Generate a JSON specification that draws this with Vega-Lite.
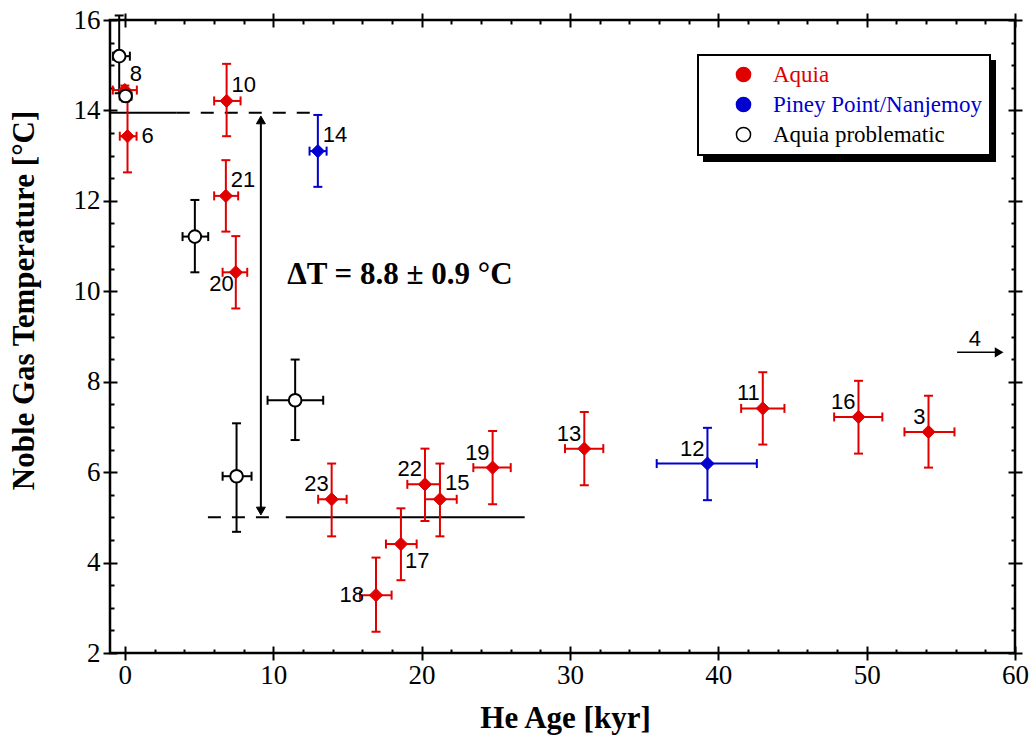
{
  "$schema": "https://vega.github.io/schema/vega-lite/v6.json",
  "width": 905,
  "height": 633,
  "autosize": {"type": "none"},
  "padding": {"left": 110, "top": 20, "right": 17, "bottom": 91},
  "background": "white",
  "config": {
    "view": {"stroke": "black", "strokeWidth": 2.5},
    "legend": {"strokeWidth": 2},
    "axis": {"grid": false, "domain": false, "tickColor": "black"}
  },
  "datasets": {
    "pts": [
      {"id": "8", "g": "Aquia", "x": 0, "xlo": -0.81, "xhi": 0.81, "y": 14.45, "ylo": 14.35, "yhi": 14.55, "pos": "ur"},
      {"id": "", "g": "Aquia problematic", "x": -0.38, "xlo": -0.79, "xhi": 0.34, "y": 15.2, "ylo": 14.38, "yhi": 16.1, "pos": "none"},
      {"id": "", "g": "Aquia problematic", "x": 0.05, "xlo": -0.34, "xhi": 0.45, "y": 14.32, "ylo": 14.2, "yhi": 14.45, "pos": "none"},
      {"id": "6", "g": "Aquia", "x": 0.18, "xlo": -0.34, "xhi": 0.79, "y": 13.43, "ylo": 12.63, "yhi": 14.23, "pos": "r"},
      {"id": "10", "g": "Aquia", "x": 6.86, "xlo": 6.02, "xhi": 7.8, "y": 14.21, "ylo": 13.43, "yhi": 15.03, "pos": "ur"},
      {"id": "14", "g": "Piney Point/Nanjemoy", "x": 13.01, "xlo": 12.45, "xhi": 13.6, "y": 13.1, "ylo": 12.31, "yhi": 13.9, "pos": "ur"},
      {"id": "21", "g": "Aquia", "x": 6.81, "xlo": 6.02, "xhi": 7.64, "y": 12.11, "ylo": 11.32, "yhi": 12.9, "pos": "ur"},
      {"id": "", "g": "Aquia problematic", "x": 4.72, "xlo": 3.89, "xhi": 5.62, "y": 11.21, "ylo": 10.42, "yhi": 12.02, "pos": "none"},
      {"id": "20", "g": "Aquia", "x": 7.48, "xlo": 6.59, "xhi": 8.25, "y": 10.42, "ylo": 9.62, "yhi": 11.22, "pos": "ll"},
      {"id": "", "g": "Aquia problematic", "x": 11.48, "xlo": 9.62, "xhi": 13.37, "y": 7.59, "ylo": 6.71, "yhi": 8.49, "pos": "none"},
      {"id": "", "g": "Aquia problematic", "x": 7.53, "xlo": 6.59, "xhi": 8.54, "y": 5.91, "ylo": 4.68, "yhi": 7.08, "pos": "none"},
      {"id": "23", "g": "Aquia", "x": 13.94, "xlo": 13.03, "xhi": 14.95, "y": 5.4, "ylo": 4.58, "yhi": 6.19, "pos": "ul"},
      {"id": "22", "g": "Aquia", "x": 20.23, "xlo": 19.04, "xhi": 21.24, "y": 5.73, "ylo": 4.92, "yhi": 6.52, "pos": "ul"},
      {"id": "15", "g": "Aquia", "x": 21.24, "xlo": 20.23, "xhi": 22.37, "y": 5.4, "ylo": 4.58, "yhi": 6.19, "pos": "ur"},
      {"id": "19", "g": "Aquia", "x": 24.79, "xlo": 23.49, "xhi": 26.01, "y": 6.1, "ylo": 5.29, "yhi": 6.91, "pos": "ul"},
      {"id": "17", "g": "Aquia", "x": 18.61, "xlo": 17.6, "xhi": 19.67, "y": 4.41, "ylo": 3.61, "yhi": 5.2, "pos": "lr"},
      {"id": "18", "g": "Aquia", "x": 16.93, "xlo": 15.85, "xhi": 17.98, "y": 3.28, "ylo": 2.47, "yhi": 4.11, "pos": "l"},
      {"id": "13", "g": "Aquia", "x": 30.97, "xlo": 29.67, "xhi": 32.25, "y": 6.52, "ylo": 5.71, "yhi": 7.33, "pos": "ul"},
      {"id": "12", "g": "Piney Point/Nanjemoy", "x": 39.27, "xlo": 35.85, "xhi": 42.6, "y": 6.19, "ylo": 5.38, "yhi": 6.98, "pos": "ul"},
      {"id": "11", "g": "Aquia", "x": 43.0, "xlo": 41.54, "xhi": 44.46, "y": 7.41, "ylo": 6.61, "yhi": 8.21, "pos": "ul"},
      {"id": "16", "g": "Aquia", "x": 49.45, "xlo": 47.81, "xhi": 51.06, "y": 7.22, "ylo": 6.41, "yhi": 8.02, "pos": "ul"},
      {"id": "3", "g": "Aquia", "x": 54.17, "xlo": 52.55, "xhi": 55.92, "y": 6.89, "ylo": 6.1, "yhi": 7.69, "pos": "ul"}
    ],
    "lines": [
      {"x": -1, "x2": 3.5, "y": 13.95, "style": "solid"},
      {"x": 3.5, "x2": 13.2, "y": 13.95, "style": "dashed"},
      {"x": 5.6, "x2": 10.4, "y": 5.0, "style": "dashed"},
      {"x": 10.85, "x2": 26.95, "y": 5.0, "style": "solid"}
    ],
    "vline": [{"x": 9.17, "y": 5.2, "y2": 13.7}],
    "heads": [
      {"x": 9.17, "y": 13.79, "dir": "up"},
      {"x": 9.17, "y": 5.14, "dir": "down"}
    ],
    "arrow4": [{"x": 56.1, "x2": 58.9, "y": 8.65, "hx": 58.9, "lx": 57.3, "label": "4"}],
    "note": [{"x": 18.54, "y": 10.36, "text": "ΔT = 8.8 ± 0.9 °C"}]
  },
  "resolve": {"axis": {"x": "independent", "y": "independent"}},
  "layer": [
    {
      "data": {"name": "lines"},
      "transform": [{"filter": "datum.style === 'solid'"}],
      "mark": {"type": "rule", "stroke": "black", "strokeWidth": 2},
      "encoding": {
        "x": {"field": "x", "type": "quantitative", "scale": {"domain": [-1, 60], "nice": false, "zero": false},
              "axis": {"orient": "bottom", "values": [2,4,6,8,12,14,16,18,22,24,26,28,32,34,36,38,42,44,46,48,52,54,56,58], "tickSize": -4, "tickWidth": 2, "labels": false, "title": null}},
        "x2": {"field": "x2"},
        "y": {"field": "y", "type": "quantitative", "scale": {"domain": [2, 16], "nice": false, "zero": false},
              "axis": {"orient": "left", "values": [2.5,3,3.5,4.5,5,5.5,6.5,7,7.5,8.5,9,9.5,10.5,11,11.5,12.5,13,13.5,14.5,15,15.5], "tickSize": -4, "tickWidth": 2, "labels": false, "title": null}}
      }
    },
    {
      "data": {"name": "lines"},
      "transform": [{"filter": "datum.style === 'dashed'"}],
      "mark": {"type": "rule", "stroke": "black", "strokeWidth": 2, "strokeDash": [13, 11]},
      "encoding": {
        "x": {"field": "x", "type": "quantitative", "scale": {"domain": [-1, 60], "nice": false, "zero": false},
              "axis": {"orient": "top", "values": [2,4,6,8,12,14,16,18,22,24,26,28,32,34,36,38,42,44,46,48,52,54,56,58], "tickSize": -4, "tickWidth": 2, "labels": false, "title": null}},
        "x2": {"field": "x2"},
        "y": {"field": "y", "type": "quantitative", "scale": {"domain": [2, 16], "nice": false, "zero": false},
              "axis": {"orient": "right", "values": [2.5,3,3.5,4.5,5,5.5,6.5,7,7.5,8.5,9,9.5,10.5,11,11.5,12.5,13,13.5,14.5,15,15.5], "tickSize": -4, "tickWidth": 2, "labels": false, "title": null}}
      }
    },
    {
      "data": {"name": "vline"},
      "mark": {"type": "rule", "stroke": "black", "strokeWidth": 2},
      "encoding": {
        "x": {"field": "x", "type": "quantitative", "scale": {"domain": [-1, 60], "nice": false, "zero": false},
              "axis": {"orient": "bottom", "values": [0,10,20,30,40,50,60], "tickSize": -7, "tickWidth": 2, "labels": false, "title": null}},
        "y": {"field": "y", "type": "quantitative", "scale": {"domain": [2, 16], "nice": false, "zero": false},
              "axis": {"orient": "left", "values": [2,4,6,8,10,12,14,16], "tickSize": -7, "tickWidth": 2, "labels": false, "title": null}},
        "y2": {"field": "y2"}
      }
    },
    {
      "data": {"name": "heads"},
      "transform": [{"filter": "datum.dir === 'up'"}],
      "mark": {"type": "point", "shape": "triangle-up", "filled": true, "fill": "black", "stroke": "black", "strokeWidth": 1, "size": 80, "opacity": 1},
      "encoding": {
        "x": {"field": "x", "type": "quantitative", "scale": {"domain": [-1, 60], "nice": false, "zero": false},
              "axis": {"orient": "top", "values": [0,10,20,30,40,50,60], "tickSize": -7, "tickWidth": 2, "labels": false, "title": null}},
        "y": {"field": "y", "type": "quantitative", "scale": {"domain": [2, 16], "nice": false, "zero": false},
              "axis": {"orient": "right", "values": [2,4,6,8,10,12,14,16], "tickSize": -7, "tickWidth": 2, "labels": false, "title": null}}
      }
    },
    {
      "data": {"name": "heads"},
      "transform": [{"filter": "datum.dir === 'down'"}],
      "mark": {"type": "point", "shape": "triangle-down", "filled": true, "fill": "black", "stroke": "black", "strokeWidth": 1, "size": 80, "opacity": 1},
      "encoding": {
        "x": {"field": "x", "type": "quantitative", "scale": {"domain": [-1, 60], "nice": false, "zero": false}, "axis": null},
        "y": {"field": "y", "type": "quantitative", "scale": {"domain": [2, 16], "nice": false, "zero": false}, "axis": null}
      }
    },
    {
      "data": {"name": "pts"},
      "mark": {"type": "rule", "strokeWidth": 2},
      "encoding": {
        "x": {"field": "xlo", "type": "quantitative", "scale": {"domain": [-1, 60], "nice": false, "zero": false},
              "axis": {"orient": "top", "values": [0,10,20,30,40,50,60], "tickSize": 7, "tickWidth": 2, "labels": false, "title": null}},
        "x2": {"field": "xhi"},
        "y": {"field": "y", "type": "quantitative", "scale": {"domain": [2, 16], "nice": false, "zero": false},
              "axis": {"orient": "right", "values": [2,4,6,8,10,12,14,16], "tickSize": 7, "tickWidth": 2, "labels": false, "title": null}},
        "stroke": {"field": "g", "type": "nominal", "scale": {"domain": ["Aquia", "Piney Point/Nanjemoy", "Aquia problematic"], "range": ["#e00000", "#0000d0", "#000000"]}}
      }
    },
    {
      "data": {"name": "pts"},
      "mark": {"type": "rule", "strokeWidth": 2},
      "encoding": {
        "x": {"field": "x", "type": "quantitative", "scale": {"domain": [-1, 60], "nice": false, "zero": false}, "axis": null},
        "y": {"field": "ylo", "type": "quantitative", "scale": {"domain": [2, 16], "nice": false, "zero": false}, "axis": null},
        "y2": {"field": "yhi"},
        "stroke": {"field": "g", "type": "nominal", "scale": {"domain": ["Aquia", "Piney Point/Nanjemoy", "Aquia problematic"], "range": ["#e00000", "#0000d0", "#000000"]}}
      }
    },
    {
      "data": {"name": "pts"},
      "mark": {"type": "rule", "strokeWidth": 2, "yOffset": -4.5, "y2Offset": 4.5},
      "encoding": {
        "x": {"field": "xlo", "type": "quantitative", "scale": {"domain": [-1, 60], "nice": false, "zero": false}, "axis": null},
        "y": {"field": "y", "type": "quantitative", "scale": {"domain": [2, 16], "nice": false, "zero": false}, "axis": null},
        "y2": {"field": "y"},
        "stroke": {"field": "g", "type": "nominal", "scale": {"domain": ["Aquia", "Piney Point/Nanjemoy", "Aquia problematic"], "range": ["#e00000", "#0000d0", "#000000"]}}
      }
    },
    {
      "data": {"name": "pts"},
      "mark": {"type": "rule", "strokeWidth": 2, "yOffset": -4.5, "y2Offset": 4.5},
      "encoding": {
        "x": {"field": "xhi", "type": "quantitative", "scale": {"domain": [-1, 60], "nice": false, "zero": false}, "axis": null},
        "y": {"field": "y", "type": "quantitative", "scale": {"domain": [2, 16], "nice": false, "zero": false}, "axis": null},
        "y2": {"field": "y"},
        "stroke": {"field": "g", "type": "nominal", "scale": {"domain": ["Aquia", "Piney Point/Nanjemoy", "Aquia problematic"], "range": ["#e00000", "#0000d0", "#000000"]}}
      }
    },
    {
      "data": {"name": "pts"},
      "mark": {"type": "rule", "strokeWidth": 2, "xOffset": -4.5, "x2Offset": 4.5},
      "encoding": {
        "x": {"field": "x", "type": "quantitative", "scale": {"domain": [-1, 60], "nice": false, "zero": false}, "axis": null},
        "x2": {"field": "x"},
        "y": {"field": "ylo", "type": "quantitative", "scale": {"domain": [2, 16], "nice": false, "zero": false}, "axis": null},
        "stroke": {"field": "g", "type": "nominal", "scale": {"domain": ["Aquia", "Piney Point/Nanjemoy", "Aquia problematic"], "range": ["#e00000", "#0000d0", "#000000"]}}
      }
    },
    {
      "data": {"name": "pts"},
      "mark": {"type": "rule", "strokeWidth": 2, "xOffset": -4.5, "x2Offset": 4.5},
      "encoding": {
        "x": {"field": "x", "type": "quantitative", "scale": {"domain": [-1, 60], "nice": false, "zero": false}, "axis": null},
        "x2": {"field": "x"},
        "y": {"field": "yhi", "type": "quantitative", "scale": {"domain": [2, 16], "nice": false, "zero": false}, "axis": null},
        "stroke": {"field": "g", "type": "nominal", "scale": {"domain": ["Aquia", "Piney Point/Nanjemoy", "Aquia problematic"], "range": ["#e00000", "#0000d0", "#000000"]}}
      }
    },
    {
      "data": {"name": "pts"},
      "transform": [{"filter": "datum.g !== 'Aquia problematic'"}],
      "mark": {"type": "point", "shape": "diamond", "filled": true, "size": 175, "strokeWidth": 1, "opacity": 1},
      "encoding": {
        "x": {"field": "x", "type": "quantitative", "scale": {"domain": [-1, 60], "nice": false, "zero": false},
              "axis": {"orient": "bottom", "values": [0,10,20,30,40,50,60], "tickSize": 7, "tickWidth": 2, "labels": true, "labelFont": "Liberation Serif", "labelFontSize": 27, "labelColor": "black", "labelPadding": 2, "labelFlush": false, "labelOverlap": false,
                       "title": "He Age [kyr]", "titleFont": "Liberation Serif", "titleFontSize": 31, "titleFontWeight": "bold", "titleColor": "black", "titleX": 455, "titleY": 65, "titleAlign": "center", "titleBaseline": "middle"}},
        "y": {"field": "y", "type": "quantitative", "scale": {"domain": [2, 16], "nice": false, "zero": false},
              "axis": {"orient": "left", "values": [2,4,6,8,10,12,14,16], "tickSize": 7, "tickWidth": 2, "labels": true, "labelFont": "Liberation Serif", "labelFontSize": 27, "labelColor": "black", "labelPadding": 3, "labelFlush": false, "labelOverlap": false,
                       "title": "Noble Gas Temperature [°C]", "titleFont": "Liberation Serif", "titleFontSize": 31, "titleFontWeight": "bold", "titleColor": "black", "titleX": -86, "titleY": 280, "titleAngle": -90, "titleAlign": "center", "titleBaseline": "middle"}},
        "fill": {"field": "g", "type": "nominal", "scale": {"domain": ["Aquia", "Piney Point/Nanjemoy", "Aquia problematic"], "range": ["#e00000", "#0000d0", "#ffffff"]},
                 "legend": {"title": null, "orient": "none", "legendX": 588, "legendY": 35, "zindex": 2, "fillColor": "white", "strokeColor": "black", "padding": 8, "symbolOffset": 26, "symbolType": "circle", "symbolSize": 200, "symbolStrokeWidth": 1.5, "labelFont": "Liberation Serif", "labelFontSize": 23, "labelOffset": 18, "rowPadding": 6, "labelLimit": 400,
                            "labelColor": {"expr": "datum.value === 'Aquia' ? '#e00000' : (datum.value === 'Piney Point/Nanjemoy' ? '#0000d0' : 'black')"}}},
        "stroke": {"field": "g", "type": "nominal", "scale": {"domain": ["Aquia", "Piney Point/Nanjemoy", "Aquia problematic"], "range": ["#e00000", "#0000d0", "#000000"]},
                 "legend": {"title": null, "orient": "none", "legendX": 588, "legendY": 35, "zindex": 2, "fillColor": "white", "strokeColor": "black", "padding": 8, "symbolOffset": 26, "symbolType": "circle", "symbolSize": 200, "symbolStrokeWidth": 1.5, "labelFont": "Liberation Serif", "labelFontSize": 23, "labelOffset": 18, "rowPadding": 6, "labelLimit": 400,
                            "labelColor": {"expr": "datum.value === 'Aquia' ? '#e00000' : (datum.value === 'Piney Point/Nanjemoy' ? '#0000d0' : 'black')"}}}
      }
    },
    {
      "data": {"name": "pts"},
      "transform": [{"filter": "datum.g === 'Aquia problematic'"}],
      "mark": {"type": "point", "shape": "circle", "filled": true, "size": 160, "strokeWidth": 2},
      "encoding": {
        "x": {"field": "x", "type": "quantitative", "scale": {"domain": [-1, 60], "nice": false, "zero": false}, "axis": null},
        "y": {"field": "y", "type": "quantitative", "scale": {"domain": [2, 16], "nice": false, "zero": false}, "axis": null},
        "fill": {"field": "g", "type": "nominal", "scale": {"domain": ["Aquia", "Piney Point/Nanjemoy", "Aquia problematic"], "range": ["#e00000", "#0000d0", "#ffffff"]}},
        "stroke": {"field": "g", "type": "nominal", "scale": {"domain": ["Aquia", "Piney Point/Nanjemoy", "Aquia problematic"], "range": ["#e00000", "#0000d0", "#000000"]}},
        "opacity": {"field": "g", "type": "nominal", "scale": {"domain": ["Aquia problematic", "Piney Point/Nanjemoy", "Aquia"], "range": [1, 1, 1]},
                    "legend": {"title": null, "orient": "none", "legendX": 594, "legendY": 41, "zindex": 1, "fillColor": "black", "strokeColor": "black", "padding": 8, "symbolOffset": 234, "symbolType": "circle", "symbolSize": 200, "symbolStrokeWidth": 1.5, "symbolFillColor": "black", "symbolStrokeColor": "black", "labelFont": "Liberation Serif", "labelFontSize": 23, "labelOffset": 18, "rowPadding": 6, "labelLimit": 400, "labelColor": "black",
                               "labelExpr": "'\u2003\u2003\u2003\u2003\u2003\u2003\u2003\u2003\u2003'"}}
      }
    },
    {
      "data": {"name": "pts"},
      "transform": [{"filter": "datum.pos === 'ur'"}],
      "mark": {"type": "text", "font": "Liberation Sans", "fontSize": 22, "color": "black", "align": "left", "baseline": "middle", "dx": 5, "dy": -16},
      "encoding": {
        "x": {"field": "x", "type": "quantitative", "scale": {"domain": [-1, 60], "nice": false, "zero": false}, "axis": null},
        "y": {"field": "y", "type": "quantitative", "scale": {"domain": [2, 16], "nice": false, "zero": false}, "axis": null},
        "text": {"field": "id"}
      }
    },
    {
      "data": {"name": "pts"},
      "transform": [{"filter": "datum.pos === 'ul'"}],
      "mark": {"type": "text", "font": "Liberation Sans", "fontSize": 22, "color": "black", "align": "right", "baseline": "middle", "dx": -3, "dy": -15},
      "encoding": {
        "x": {"field": "x", "type": "quantitative", "scale": {"domain": [-1, 60], "nice": false, "zero": false}, "axis": null},
        "y": {"field": "y", "type": "quantitative", "scale": {"domain": [2, 16], "nice": false, "zero": false}, "axis": null},
        "text": {"field": "id"}
      }
    },
    {
      "data": {"name": "pts"},
      "transform": [{"filter": "datum.pos === 'r'"}],
      "mark": {"type": "text", "font": "Liberation Sans", "fontSize": 22, "color": "black", "align": "left", "baseline": "middle", "dx": 14, "dy": 0},
      "encoding": {
        "x": {"field": "x", "type": "quantitative", "scale": {"domain": [-1, 60], "nice": false, "zero": false}, "axis": null},
        "y": {"field": "y", "type": "quantitative", "scale": {"domain": [2, 16], "nice": false, "zero": false}, "axis": null},
        "text": {"field": "id"}
      }
    },
    {
      "data": {"name": "pts"},
      "transform": [{"filter": "datum.pos === 'll'"}],
      "mark": {"type": "text", "font": "Liberation Sans", "fontSize": 22, "color": "black", "align": "right", "baseline": "middle", "dx": -2, "dy": 12},
      "encoding": {
        "x": {"field": "x", "type": "quantitative", "scale": {"domain": [-1, 60], "nice": false, "zero": false}, "axis": null},
        "y": {"field": "y", "type": "quantitative", "scale": {"domain": [2, 16], "nice": false, "zero": false}, "axis": null},
        "text": {"field": "id"}
      }
    },
    {
      "data": {"name": "pts"},
      "transform": [{"filter": "datum.pos === 'lr'"}],
      "mark": {"type": "text", "font": "Liberation Sans", "fontSize": 22, "color": "black", "align": "left", "baseline": "middle", "dx": 4, "dy": 17},
      "encoding": {
        "x": {"field": "x", "type": "quantitative", "scale": {"domain": [-1, 60], "nice": false, "zero": false}, "axis": null},
        "y": {"field": "y", "type": "quantitative", "scale": {"domain": [2, 16], "nice": false, "zero": false}, "axis": null},
        "text": {"field": "id"}
      }
    },
    {
      "data": {"name": "pts"},
      "transform": [{"filter": "datum.pos === 'l'"}],
      "mark": {"type": "text", "font": "Liberation Sans", "fontSize": 22, "color": "black", "align": "right", "baseline": "middle", "dx": -12, "dy": 0},
      "encoding": {
        "x": {"field": "x", "type": "quantitative", "scale": {"domain": [-1, 60], "nice": false, "zero": false}, "axis": null},
        "y": {"field": "y", "type": "quantitative", "scale": {"domain": [2, 16], "nice": false, "zero": false}, "axis": null},
        "text": {"field": "id"}
      }
    },
    {
      "data": {"name": "note"},
      "mark": {"type": "text", "font": "Liberation Serif", "fontSize": 31, "fontWeight": "bold", "color": "black", "align": "center", "baseline": "middle"},
      "encoding": {
        "x": {"field": "x", "type": "quantitative", "scale": {"domain": [-1, 60], "nice": false, "zero": false}, "axis": null},
        "y": {"field": "y", "type": "quantitative", "scale": {"domain": [2, 16], "nice": false, "zero": false}, "axis": null},
        "text": {"field": "text"}
      }
    },
    {
      "data": {"name": "arrow4"},
      "mark": {"type": "rule", "stroke": "black", "strokeWidth": 1.5},
      "encoding": {
        "x": {"field": "x", "type": "quantitative", "scale": {"domain": [-1, 60], "nice": false, "zero": false}, "axis": null},
        "x2": {"field": "x2"},
        "y": {"field": "y", "type": "quantitative", "scale": {"domain": [2, 16], "nice": false, "zero": false}, "axis": null}
      }
    },
    {
      "data": {"name": "arrow4"},
      "mark": {"type": "point", "shape": "triangle-right", "filled": true, "fill": "black", "stroke": "black", "size": 45, "opacity": 1},
      "encoding": {
        "x": {"field": "hx", "type": "quantitative", "scale": {"domain": [-1, 60], "nice": false, "zero": false}, "axis": null},
        "y": {"field": "y", "type": "quantitative", "scale": {"domain": [2, 16], "nice": false, "zero": false}, "axis": null}
      }
    },
    {
      "data": {"name": "arrow4"},
      "mark": {"type": "text", "font": "Liberation Sans", "fontSize": 22, "color": "black", "align": "center", "baseline": "middle", "dy": -13},
      "encoding": {
        "x": {"field": "lx", "type": "quantitative", "scale": {"domain": [-1, 60], "nice": false, "zero": false}, "axis": null},
        "y": {"field": "y", "type": "quantitative", "scale": {"domain": [2, 16], "nice": false, "zero": false}, "axis": null},
        "text": {"field": "label"}
      }
    }
  ]
}
